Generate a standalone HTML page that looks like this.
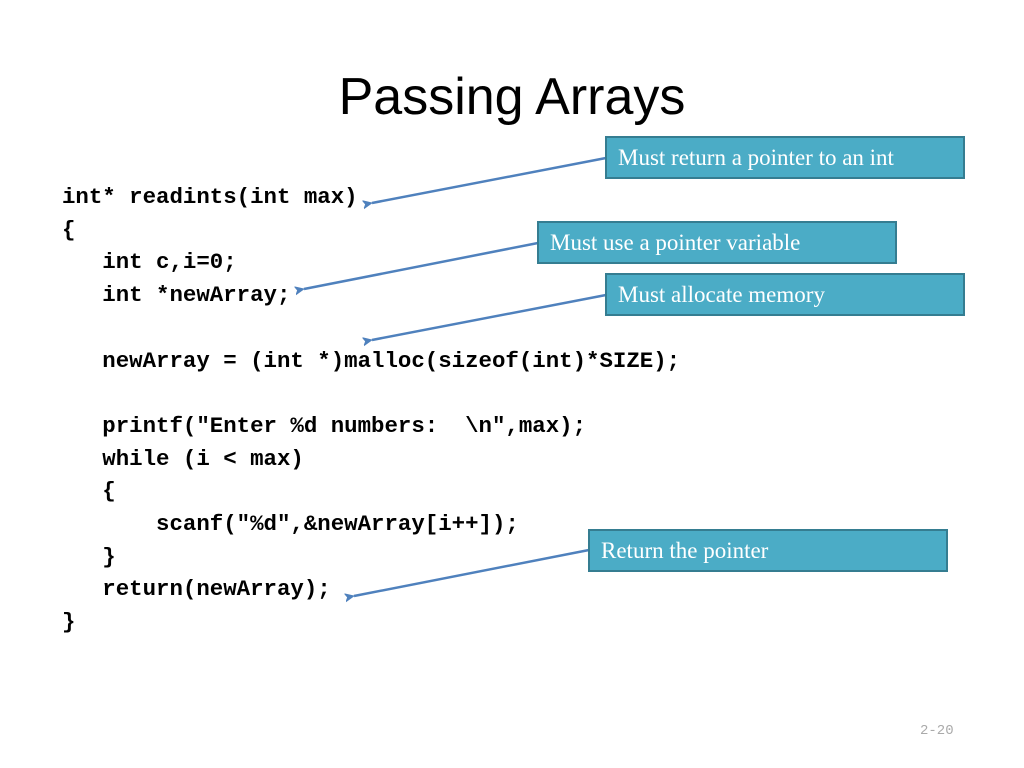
<!DOCTYPE html>
<html><head><meta charset="utf-8"><style>
body{margin:0;width:1024px;height:768px;background:#fff;position:relative;overflow:hidden;font-family:"Liberation Sans",sans-serif}
.t{position:absolute;left:0;width:1024px;top:62px;text-align:center;font-size:52px;color:#000;line-height:70px}
.c{position:absolute;left:62px;font-family:"Liberation Mono",monospace;font-weight:bold;font-size:22.4px;white-space:pre;line-height:32.7px;top:181px;color:#000}
.b{position:absolute;background:#4bacc6;border:2px solid #357d91;box-sizing:border-box;color:#fff;font-family:"Liberation Serif",serif;font-size:23px;padding-left:11px;line-height:40px;height:43px;width:360px}
.n{position:absolute;left:920px;top:723px;font-size:14px;color:#aaa;font-family:"Liberation Mono",monospace}
</style></head><body>
<div class="t">Passing Arrays</div>
<div class="c">int* readints(int max)
{
   int c,i=0;
   int *newArray;

   newArray = (int *)malloc(sizeof(int)*SIZE);

   printf("Enter %d numbers:  \n",max);
   while (i &lt; max)
   {
       scanf("%d",&amp;newArray[i++]);
   }
   return(newArray);
}</div>
<svg width="1024" height="768" style="position:absolute;left:0;top:0">
<defs><marker id="a" markerWidth="10" markerHeight="10" refX="1" refY="5" orient="auto-start-reverse" markerUnits="userSpaceOnUse"><path d="M0,5 L11,0 L8,5 L11,10Z" fill="#4f81bd"/></marker></defs>
<g stroke="#4f81bd" stroke-width="2.5" fill="none">
<line x1="606" y1="158" x2="372" y2="203" marker-end="url(#a)"/>
<line x1="538" y1="243" x2="304" y2="289" marker-end="url(#a)"/>
<line x1="606" y1="295" x2="372" y2="340" marker-end="url(#a)"/>
<line x1="589" y1="550" x2="354" y2="596" marker-end="url(#a)"/>
</g></svg>
<div class="b" style="left:605px;top:136px">Must return a pointer to an int</div>
<div class="b" style="left:537px;top:221px">Must use a pointer variable</div>
<div class="b" style="left:605px;top:273px">Must allocate memory</div>
<div class="b" style="left:588px;top:529px">Return the pointer</div>
<div class="n">2-20</div>
</body></html>
